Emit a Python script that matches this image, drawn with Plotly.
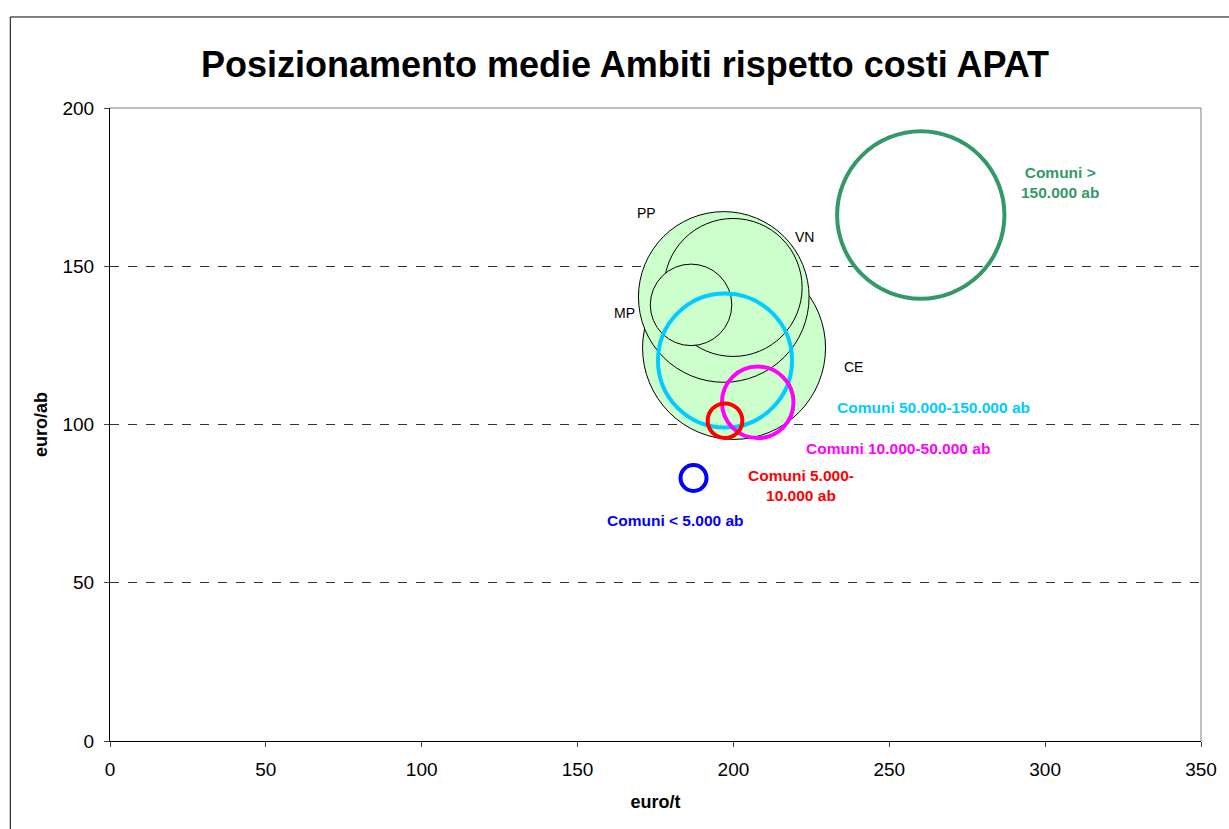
import plotly.graph_objects as go

# Ambiti (filled green bubbles)
ambiti = ["CE", "PP", "VN", "MP"]
ambiti_x = [200.2, 196.9, 199.9, 186.4]
ambiti_y = [124.2, 140.3, 143.3, 137.8]
ambiti_size = [83.7, 72.8, 47.6, 16.6]

# Classi di comuni (outlined bubbles)
classi = ["Comuni > 150.000 ab", "Comuni 50.000-150.000 ab", "Comuni 10.000-50.000 ab",
          "Comuni 5.000-10.000 ab", "Comuni < 5.000 ab"]
classi_label = ["Comuni ><br>150.000 ab", "Comuni 50.000-150.000 ab", "Comuni 10.000-50.000 ab",
                "Comuni 5.000-<br>10.000 ab", "Comuni < 5.000 ab"]
classi_x = [260.1, 197.3, 207.8, 197.3, 187.2]
classi_y = [166.2, 120.2, 107.0, 101.2, 83.1]
classi_size = [70.0, 44.9, 12.8, 3.0, 1.69]
classi_colors = ["#339966", "#00CCFF", "#FF00FF", "#FF0000", "#0000FF"]

x_ticks = [0, 50, 100, 150, 200, 250, 300, 350]
y_ticks = [0, 50, 100, 150, 200]

SIZEREF = 0.005
FONT = "Arial, Liberation Sans, sans-serif"

fig = go.Figure()

for name, x, y, s in zip(ambiti, ambiti_x, ambiti_y, ambiti_size):
    fig.add_trace(go.Scatter(
        x=[x], y=[y], mode="markers", name=name,
        marker=dict(size=[s], sizemode="area", sizeref=SIZEREF,
                    color="#CCFFCC", opacity=1,
                    line=dict(color="black", width=1)),
        showlegend=False, hoverinfo="name+x+y"))

for name, x, y, s, c in zip(classi, classi_x, classi_y, classi_size, classi_colors):
    fig.add_trace(go.Scatter(
        x=[x], y=[y], mode="markers", name=name,
        marker=dict(size=[s], sizemode="area", sizeref=SIZEREF,
                    color="rgba(0,0,0,0)", opacity=1,
                    line=dict(color=c, width=4)),
        showlegend=False, hoverinfo="name+x+y"))

# label offsets (pixels) relative to bubble centre
amb_off = {"CE": (119, -19), "PP": (-77, 84), "VN": (71, 50), "MP": (-67, -8)}
for name, x, y in zip(ambiti, ambiti_x, ambiti_y):
    dx, dy = amb_off[name]
    fig.add_annotation(x=x, y=y, text=name, showarrow=False, xshift=dx, yshift=dy,
                       font=dict(family=FONT, size=14, color="black"))

cls_off = [(139, 32), (208, -47), (140, -46), (76, -65), (-18, -43)]
for lab, x, y, c, (dx, dy) in zip(classi_label, classi_x, classi_y, classi_colors, cls_off):
    fig.add_annotation(x=x, y=y, text="<b>" + lab + "</b>", showarrow=False,
                       xshift=dx, yshift=dy, align="center",
                       font=dict(family=FONT, size=15.5, color=c))

# outer chart frame
fig.add_shape(type="rect", xref="paper", yref="paper",
              x0=-0.0914, x1=1.05, y0=-0.2, y1=1.1438,
              line=dict(color="black", width=1), fillcolor="rgba(0,0,0,0)", layer="below")

fig.update_layout(
    width=1229, height=829,
    margin=dict(l=110, r=25, t=108, b=88),
    paper_bgcolor="white", plot_bgcolor="white",
    title=dict(text="<b>Posizionamento medie Ambiti rispetto costi APAT</b>",
               x=625 / 1229, xref="container", xanchor="center",
               y=1 - 64 / 829, yref="container", yanchor="middle",
               font=dict(family=FONT, size=36, color="black")),
    font=dict(family=FONT, size=19, color="black"),
    xaxis=dict(range=[0, 350], tickvals=x_ticks, ticks="outside", ticklen=5,
               ticklabelstandoff=6,
               showline=True, linecolor="black", linewidth=1, mirror=False,
               showgrid=False, zeroline=False,
               title=dict(text="<b>euro/t</b>", font=dict(size=18), standoff=16)),
    yaxis=dict(range=[0, 200], tickvals=y_ticks, ticks="outside", ticklen=5,
               ticklabelstandoff=6,
               showline=True, linecolor="black", linewidth=1,
               showgrid=True, gridcolor="#333333", griddash="dash", gridwidth=1,
               zeroline=False,
               title=dict(text="<b>euro/ab</b>", font=dict(size=18), standoff=10)),
)

# plot-area border (top/right grey)
fig.add_shape(type="line", xref="paper", yref="paper", x0=0, x1=1, y0=1, y1=1,
              line=dict(color="#808080", width=1))
fig.add_shape(type="line", xref="paper", yref="paper", x0=1, x1=1, y0=0, y1=1,
              line=dict(color="#808080", width=1))

fig.write_html("out.html", config={"displayModeBar": False},
               post_script="document.body.style.margin='0';")
